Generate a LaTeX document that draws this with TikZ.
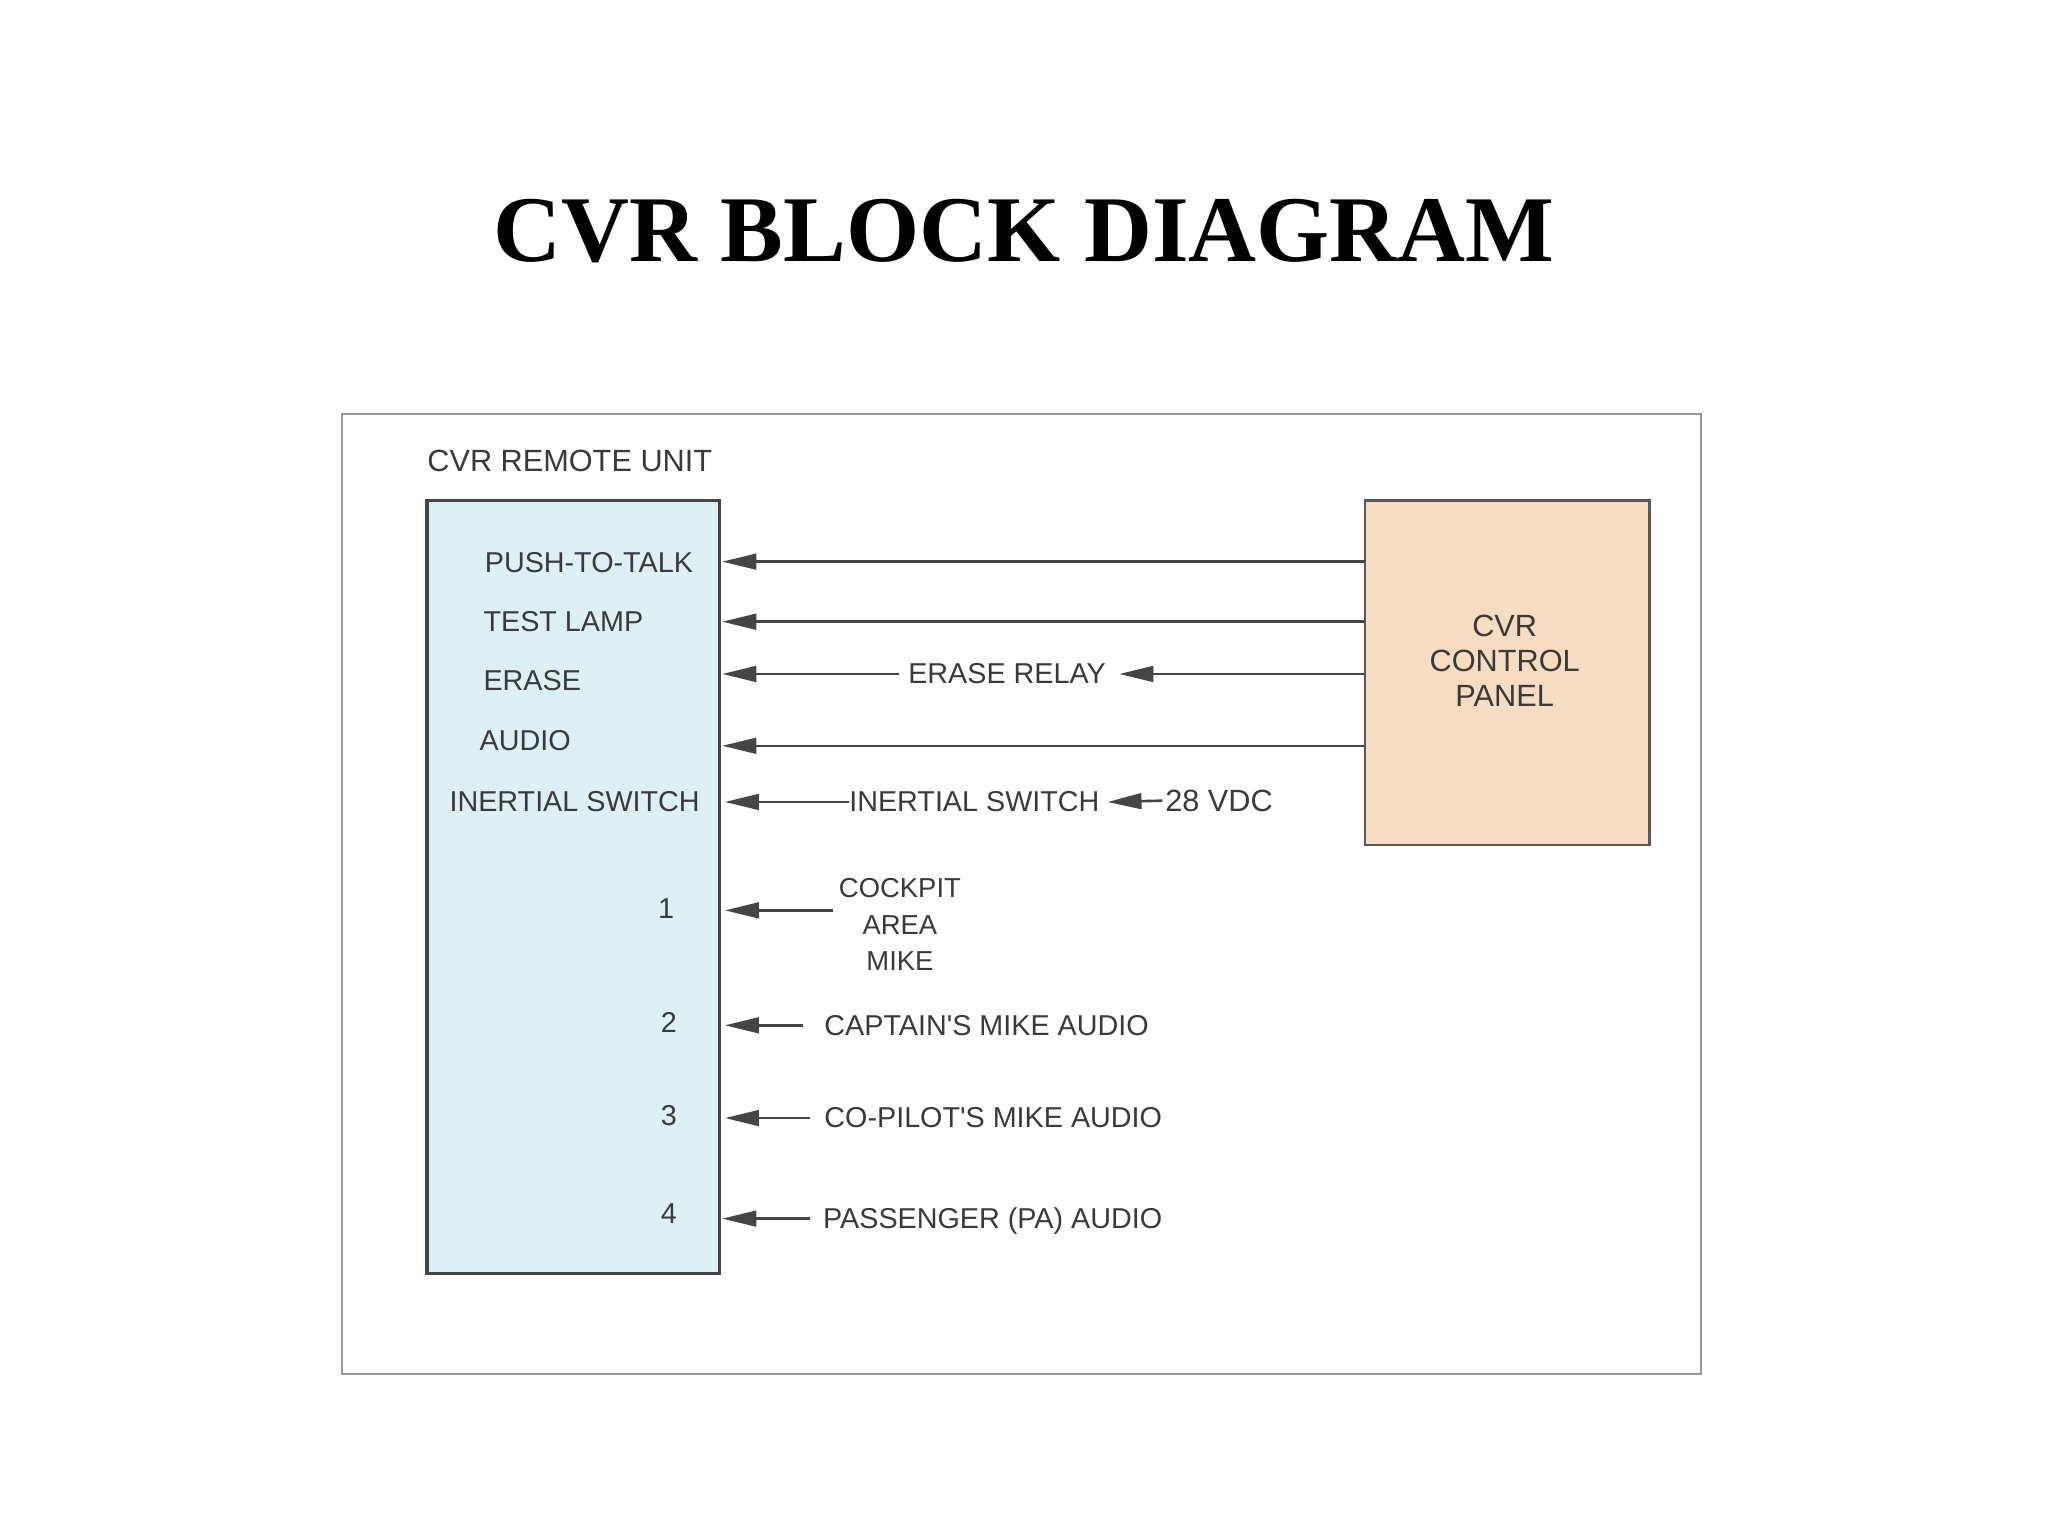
\documentclass[tikz,border=0pt]{standalone}
\usepackage{fontspec}
\setmainfont{Liberation Serif}
\newfontfamily\lsans{Liberation Sans}
\usetikzlibrary{arrows.meta}
\definecolor{ln}{HTML}{454545}
\definecolor{cyanbox}{HTML}{DDF0F3}
\definecolor{tanbox}{HTML}{F6DDC2}
\definecolor{txt}{HTML}{3A3A3A}
\begin{document}
\begin{tikzpicture}[x=1pt,y=-1pt,
  lbl/.style={font=\lsans\fontsize{22}{26}\selectfont,text=txt,inner sep=0pt},
  arr/.style={draw=ln,line width=2pt,-{Triangle[length=26pt,width=12pt]}}]
\useasboundingbox (0,0) rectangle (1568,1176);
\node[font=\bfseries\fontsize{72}{82}\selectfont] (title) at (784,177) {CVR BLOCK DIAGRAM};
\draw[draw=gray!80,line width=1.5pt] (262,317) rectangle (1302,1052);
\node[lbl,anchor=west,font=\lsans\fontsize{23.5}{27}\selectfont] (rul) at (327,353) {CVR REMOTE UNIT};
\draw[fill=cyanbox,draw=ln,line width=2.5pt] (327,383) rectangle (551,975);
\node (ru) at (439,679) {};
\draw[fill=tanbox,draw=gray!70!black,line width=2pt] (1045,383) rectangle (1263,647);
\node[lbl,align=center,font=\lsans\fontsize{23.5}{27}\selectfont] (cp) at (1152,506) {CVR\\CONTROL\\PANEL};
% left labels
\node[lbl,anchor=west] (l1) at (371,431) {PUSH-TO-TALK};
\node[lbl,anchor=west] (l2) at (370,476) {TEST LAMP};
\node[lbl,anchor=west] (l3) at (370,521) {ERASE};
\node[lbl,anchor=west] (l4) at (367,567) {AUDIO};
\node[lbl,anchor=west] (l5) at (344,614) {INERTIAL SWITCH};
\node[lbl] (n1) at (510,696) {1};
\node[lbl] (n2) at (512,783) {2};
\node[lbl] (n3) at (512,854) {3};
\node[lbl] (n4) at (512,929) {4};
% endpoints
\foreach \n/\y in {a/430,b/476,c/516,d/571}{
  \coordinate (s\n) at (1045,\y); \coordinate (t\n) at (553,\y);}
\draw[arr] (sa) -- (ta);
\draw[arr] (sb) -- (tb);
\draw[arr] (sd) -- (td);
\node[lbl] (er) at (771,516) {ERASE RELAY};
\coordinate (erx) at (857,516);
\draw[arr] (sc) -- (erx);
\coordinate (erw) at (688,516);
\draw[arr] (erw) -- (tc);
\node[lbl] (is) at (746,614) {INERTIAL SWITCH};
\node[lbl,anchor=west,font=\lsans\fontsize{23.5}{27}\selectfont] (v28) at (892,613) {28 VDC};
\coordinate (isx) at (848,614);
\draw[arr] ([xshift=-2pt]v28.west) -- (isx);
\coordinate (te) at (555,614);
\draw[arr] (is.west) -- (te);
\node[lbl,align=center,font=\lsans\fontsize{21}{28}\selectfont] (ck) at (689,708) {COCKPIT\\AREA\\MIKE};
\coordinate (tf) at (555,697); \coordinate (sf) at (638,697);
\draw[arr] (sf) -- (tf);
\node[lbl,anchor=west] (cap) at (631,785) {CAPTAIN'S MIKE AUDIO};
\node[lbl,anchor=west] (cop) at (631,856) {CO-PILOT'S MIKE AUDIO};
\node[lbl,anchor=west] (pa) at (630,935) {PASSENGER (PA) AUDIO};
\coordinate (sg) at (615,785); \coordinate (sh) at (620,856); \coordinate (si) at (620,933);
\coordinate (tg) at (555,785); \coordinate (th) at (555,856); \coordinate (ti) at (553,933);
\draw[arr] (sg) -- (tg);
\draw[arr] (sh) -- (th);
\draw[arr] (si) -- (ti);
\end{tikzpicture}
\end{document}
